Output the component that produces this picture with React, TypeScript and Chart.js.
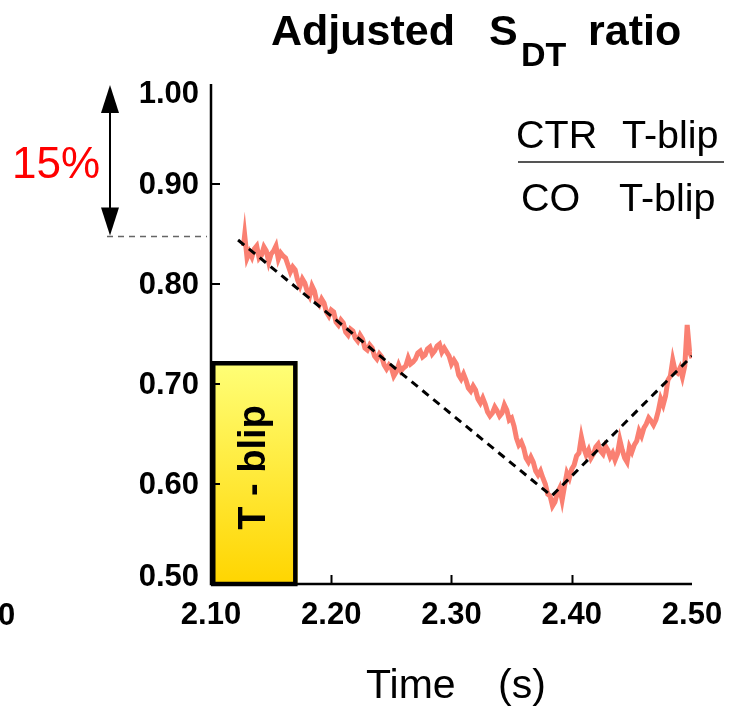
import React, { useEffect, useRef } from "react";
import { Chart, registerables } from "chart.js";

Chart.register(...registerables);

const timeS = [
  2.127, 2.128, 2.130, 2.132, 2.134, 2.136, 2.138, 2.140, 2.142, 2.144,
  2.146, 2.148, 2.150, 2.152, 2.154, 2.156, 2.158, 2.160, 2.162, 2.164,
  2.166, 2.168, 2.170, 2.172, 2.174, 2.176, 2.178, 2.180, 2.182, 2.184,
  2.186, 2.188, 2.190, 2.192, 2.194, 2.196, 2.198, 2.200, 2.202, 2.204,
  2.206, 2.208, 2.210, 2.212, 2.214, 2.216, 2.218, 2.220, 2.222, 2.224,
  2.226, 2.228, 2.230, 2.232, 2.234, 2.236, 2.238, 2.240, 2.242, 2.244,
  2.246, 2.248, 2.250, 2.252, 2.254, 2.256, 2.258, 2.260, 2.262, 2.264,
  2.266, 2.268, 2.270, 2.272, 2.274, 2.276, 2.278, 2.280, 2.282, 2.284,
  2.286, 2.288, 2.290, 2.292, 2.294, 2.296, 2.298, 2.300, 2.302, 2.304,
  2.306, 2.308, 2.310, 2.312, 2.314, 2.316, 2.318, 2.320, 2.322, 2.324,
  2.326, 2.328, 2.330, 2.332, 2.334, 2.336, 2.338, 2.340, 2.342, 2.344,
  2.346, 2.348, 2.350, 2.352, 2.354, 2.356, 2.358, 2.360, 2.362, 2.364,
  2.366, 2.368, 2.370, 2.372, 2.374, 2.376, 2.378, 2.380, 2.382, 2.384,
  2.386, 2.388, 2.390, 2.392, 2.394, 2.396, 2.398, 2.400, 2.402, 2.404,
  2.406, 2.408, 2.410, 2.412, 2.414, 2.416, 2.418, 2.420, 2.422, 2.424,
  2.426, 2.428, 2.430, 2.432, 2.434, 2.436, 2.438, 2.440, 2.442, 2.444,
  2.446, 2.448, 2.450, 2.452, 2.454, 2.456, 2.458, 2.460, 2.462, 2.464,
  2.466, 2.468, 2.470, 2.472, 2.474, 2.476, 2.478, 2.480, 2.482, 2.484,
  2.486, 2.488, 2.490, 2.492, 2.494, 2.496, 2.498, 2.500,
];

const ratioValues = [
  0.838, 0.849, 0.826, 0.832, 0.827, 0.835, 0.838, 0.826, 0.829, 0.837,
  0.833, 0.822, 0.830, 0.833, 0.838, 0.825, 0.831, 0.828, 0.826, 0.819,
  0.812, 0.817, 0.814, 0.804, 0.798, 0.805, 0.801, 0.793, 0.788, 0.798,
  0.793, 0.782, 0.779, 0.785, 0.781, 0.772, 0.768, 0.774, 0.772, 0.762,
  0.759, 0.764, 0.761, 0.752, 0.749, 0.755, 0.753, 0.746, 0.743, 0.749,
  0.745, 0.736, 0.734, 0.739, 0.736, 0.728, 0.725, 0.730, 0.727, 0.719,
  0.715, 0.719, 0.716, 0.708, 0.712, 0.719, 0.713, 0.716, 0.718, 0.726,
  0.720, 0.722, 0.725, 0.731, 0.733, 0.727, 0.729, 0.735, 0.737, 0.730,
  0.733, 0.738, 0.740, 0.732, 0.736, 0.732, 0.728, 0.720, 0.724, 0.720,
  0.709, 0.705, 0.710, 0.704, 0.696, 0.693, 0.698, 0.694, 0.685, 0.681,
  0.686, 0.680, 0.672, 0.668, 0.671, 0.677, 0.673, 0.668, 0.671, 0.679,
  0.674, 0.664, 0.666, 0.658, 0.646, 0.639, 0.642, 0.636, 0.626, 0.622,
  0.627, 0.622, 0.613, 0.609, 0.613, 0.606, 0.600, 0.590, 0.588, 0.578,
  0.582, 0.591, 0.596, 0.584, 0.598, 0.611, 0.606, 0.615, 0.619, 0.628,
  0.631, 0.647, 0.636, 0.629, 0.634, 0.626, 0.630, 0.637, 0.640, 0.633,
  0.630, 0.638, 0.634, 0.627, 0.631, 0.624, 0.630, 0.644, 0.634, 0.626,
  0.622, 0.637, 0.632, 0.639, 0.643, 0.653, 0.648, 0.656, 0.660, 0.666,
  0.663, 0.659, 0.664, 0.673, 0.685, 0.679, 0.688, 0.704, 0.708, 0.724,
  0.713, 0.711, 0.716, 0.707, 0.718, 0.759, 0.732, 0.726,
];

const fitTime = [2.1225, 2.3833, 2.5];
const fitRatio = [0.844, 0.588, 0.728];

const yTickValues = [0.5, 0.6, 0.7, 0.8, 0.9, 1.0];
const xInnerTicks = [2.2, 2.3, 2.4];
const yInnerTicks = [0.6, 0.7, 0.8, 0.9];

const blipStart = 2.1;
const blipEnd = 2.172;
const blipTop = 0.723;
const blipLabel = "T - blip";

const referenceLevel = 0.848;
const dropLabel = "15%";
const titleMain = "Adjusted";
const titleS = "S";
const titleSub = "DT";
const titleEnd = "ratio";
const xAxisTitleA = "Time";
const xAxisTitleB = "(s)";
const fracTop = ["CTR", "T-blip"];
const fracBottom = ["CO", "T-blip"];

const FONT = '"Liberation Sans", Arial, Helvetica, sans-serif';

const overlayPlugin = {
  id: "overlay",
  beforeDatasetsDraw(chart: any) {
    const { ctx, scales } = chart;
    const x = scales.x;
    const y = scales.y;
    ctx.save();
    const l = x.getPixelForValue(blipStart);
    const r = x.getPixelForValue(blipEnd);
    const t = y.getPixelForValue(blipTop);
    const b = y.getPixelForValue(0.5);
    const g = ctx.createLinearGradient(0, t, 0, b);
    g.addColorStop(0, "#FFFF78");
    g.addColorStop(1, "#FFD500");
    ctx.fillStyle = g;
    ctx.fillRect(l, t, r - l, b - t);
    ctx.lineWidth = 4.5;
    ctx.strokeStyle = "#000";
    ctx.strokeRect(l + 2.25, t + 2.25, r - l - 4.5, b - t - 2.25);
    ctx.save();
    ctx.translate((l + r) / 2, (t + b) / 2 - 5);
    ctx.rotate(-Math.PI / 2);
    ctx.fillStyle = "#000";
    ctx.font = `bold 38px ${FONT}`;
    ctx.textAlign = "center";
    ctx.textBaseline = "middle";
    ctx.fillText(blipLabel, 0, 0);
    ctx.restore();
    ctx.restore();
  },
  afterDraw(chart: any) {
    const { ctx, chartArea, scales } = chart;
    const x = scales.x;
    const y = scales.y;
    ctx.save();
    ctx.strokeStyle = "#000";
    ctx.lineWidth = 2.5;
    ctx.beginPath();
    ctx.moveTo(chartArea.left, chartArea.top);
    ctx.lineTo(chartArea.left, chartArea.bottom);
    ctx.lineTo(chartArea.right, chartArea.bottom);
    ctx.stroke();
    ctx.lineWidth = 2;
    ctx.beginPath();
    for (const v of xInnerTicks) {
      const px = Math.round(x.getPixelForValue(v)) + 0.5;
      ctx.moveTo(px, chartArea.bottom);
      ctx.lineTo(px, chartArea.bottom - 9);
    }
    for (const v of yInnerTicks) {
      const py = Math.round(y.getPixelForValue(v));
      ctx.moveTo(chartArea.left, py);
      ctx.lineTo(chartArea.left + 9, py);
    }
    ctx.stroke();

    ctx.fillStyle = "#000";
    ctx.font = `bold 31px ${FONT}`;
    ctx.textAlign = "right";
    ctx.textBaseline = "middle";
    for (const v of yTickValues) {
      let py = y.getPixelForValue(v);
      py = Math.min(Math.max(py, chartArea.top + 9), chartArea.bottom - 8);
      ctx.fillText(v.toFixed(2), chartArea.left - 12, py + 1);
    }
    ctx.textAlign = "left";
    ctx.textBaseline = "alphabetic";
    ctx.fillText("0", -2, 625);

    ctx.font = `bold 43px ${FONT}`;
    ctx.fillText(titleMain, 271, 45);
    ctx.fillText(titleS, 489, 45);
    ctx.fillText(titleEnd, 588, 45);
    ctx.font = `bold 34px ${FONT}`;
    ctx.fillText(titleSub, 521, 66);

    ctx.font = `41px ${FONT}`;
    ctx.fillText(xAxisTitleA, 366, 698);
    ctx.fillText(xAxisTitleB, 498, 698);

    ctx.font = `39.5px ${FONT}`;
    ctx.fillText(fracTop[0], 516, 148);
    ctx.fillText(fracTop[1], 622, 148);
    ctx.fillText(fracBottom[0], 521, 211);
    ctx.fillText(fracBottom[1], 619, 211);
    ctx.strokeStyle = "#555";
    ctx.lineWidth = 2;
    ctx.beginPath();
    ctx.moveTo(518, 162);
    ctx.lineTo(724, 162);
    ctx.stroke();

    const refY = Math.round(y.getPixelForValue(referenceLevel)) + 0.5;
    ctx.strokeStyle = "#666";
    ctx.lineWidth = 1.5;
    ctx.setLineDash([6, 5]);
    ctx.beginPath();
    ctx.moveTo(107, refY);
    ctx.lineTo(chartArea.left - 4, refY);
    ctx.stroke();
    ctx.setLineDash([]);

    const topY = y.getPixelForValue(1.0) + 1;
    const ax = 110;
    ctx.strokeStyle = "#000";
    ctx.fillStyle = "#000";
    ctx.lineWidth = 2;
    ctx.beginPath();
    ctx.moveTo(ax, topY + 20);
    ctx.lineTo(ax, refY - 20);
    ctx.stroke();
    ctx.beginPath();
    ctx.moveTo(ax, topY);
    ctx.lineTo(ax - 9, topY + 28);
    ctx.lineTo(ax + 9, topY + 28);
    ctx.closePath();
    ctx.fill();
    ctx.beginPath();
    ctx.moveTo(ax, refY - 1);
    ctx.lineTo(ax - 9, refY - 29);
    ctx.lineTo(ax + 9, refY - 29);
    ctx.closePath();
    ctx.fill();

    ctx.fillStyle = "#FF0000";
    ctx.font = `44px ${FONT}`;
    ctx.fillText(dropLabel, 12, 178);
    ctx.restore();
  },
};

export default function App() {
  const canvasRef = useRef<HTMLCanvasElement | null>(null);

  useEffect(() => {
    const canvas = canvasRef.current;
    if (!canvas) return;
    const chart = new Chart(canvas, {
      type: "line",
      data: {
        datasets: [
          {
            label: "fit",
            data: fitTime.map((t, i) => ({ x: t, y: fitRatio[i] })),
            borderColor: "#000",
            borderWidth: 3,
            borderDash: [8, 6],
            pointRadius: 0,
            tension: 0,
            order: 0,
          },
          {
            label: "ratio",
            data: timeS.map((t, i) => ({ x: t, y: ratioValues[i] })),
            borderColor: "#FA8072",
            borderWidth: 5,
            pointRadius: 0,
            tension: 0,
            order: 1,
          },
        ],
      },
      options: {
        responsive: false,
        animation: false,
        layout: { padding: { left: 0, top: 84, right: 46, bottom: 0 } },
        plugins: {
          legend: { display: false },
          tooltip: { enabled: false },
          title: { display: false },
        },
        scales: {
          x: {
            type: "linear",
            min: 2.1,
            max: 2.5,
            grid: { display: false, drawTicks: false },
            border: { display: false },
            ticks: {
              stepSize: 0.1,
              maxRotation: 0,
              autoSkip: false,
              padding: 13,
              color: "#000",
              font: { family: FONT, size: 31, weight: "bold" },
              callback: (v: any) => Number(v).toFixed(2),
            },
            afterFit: (s: any) => {
              s.height = 124;
            },
          },
          y: {
            type: "linear",
            min: 0.5,
            max: 1.0,
            grid: { display: false, drawTicks: false },
            border: { display: false },
            ticks: { display: false, stepSize: 0.1 },
            afterFit: (s: any) => {
              s.width = 211;
            },
          },
        },
      },
      plugins: [overlayPlugin],
    });
    return () => chart.destroy();
  }, []);

  return (
    <div style={{ position: "fixed", left: 0, top: 0, width: 738, height: 708, background: "#fff" }}>
      <canvas ref={canvasRef} width={738} height={708} style={{ display: "block" }} />
    </div>
  );
}
